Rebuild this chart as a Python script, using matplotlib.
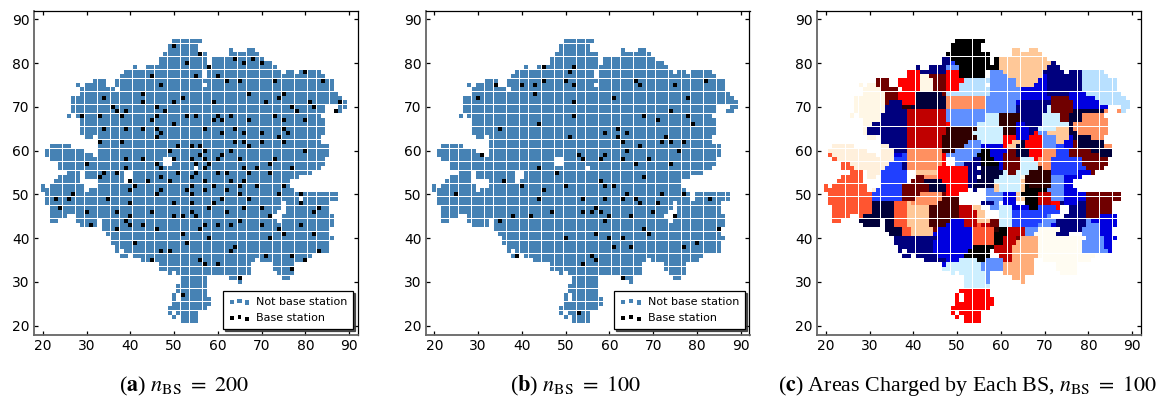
import matplotlib
matplotlib.use('Agg')
import matplotlib.pyplot as plt

# cells of the grid, row by row: y -> runs of x (first, last)
mask_rows = {
    85: [(50, 56)], 84: [(49, 55)], 83: [(49, 55), (63, 63), (67, 68)], 82: [(48, 57), (63, 69)],
    81: [(47, 57), (59, 70)], 80: [(47, 57), (59, 72)], 79: [(41, 41), (44, 73)],
    78: [(39, 56), (58, 74), (76, 77), (79, 83)], 77: [(38, 56), (58, 84)],
    76: [(32, 34), (37, 86)], 75: [(28, 28), (30, 34), (37, 56), (58, 86)],
    74: [(29, 36), (38, 86)], 73: [(29, 87)], 72: [(27, 88)], 71: [(27, 89)],
    70: [(27, 84), (88, 89)], 69: [(27, 84), (87, 88)], 68: [(26, 26), (28, 83)],
    67: [(29, 84)], 66: [(29, 84)], 65: [(29, 84)], 64: [(29, 84)],
    63: [(30, 31), (33, 83)], 62: [(33, 83)], 61: [(22, 26), (33, 85)],
    60: [(21, 29), (33, 85)], 59: [(21, 31), (33, 85)], 58: [(22, 47), (50, 84)],
    57: [(24, 47), (50, 84)], 56: [(24, 54), (56, 83)],
    55: [(26, 28), (30, 38), (41, 81)], 54: [(24, 28), (30, 38), (41, 78)],
    53: [(23, 28), (33, 38), (40, 76)], 52: [(20, 20), (22, 29), (33, 76)],
    51: [(20, 29), (31, 77)], 50: [(21, 78), (80, 87)], 49: [(21, 78), (80, 87)],
    48: [(21, 74), (76, 85)], 47: [(22, 74), (76, 85)], 46: [(22, 73), (76, 85)],
    45: [(22, 25), (28, 72), (75, 86)], 44: [(22, 23), (28, 32), (34, 73), (75, 86)],
    43: [(29, 32), (34, 86)], 42: [(34, 85)], 41: [(35, 85)], 40: [(36, 86)],
    39: [(36, 85)], 38: [(37, 85)], 37: [(37, 37), (39, 85)],
    36: [(38, 39), (41, 81)], 35: [(43, 68), (70, 80)], 34: [(47, 67), (73, 77)],
    33: [(47, 67), (73, 77)], 32: [(49, 49), (51, 67), (74, 77)],
    31: [(52, 57), (63, 65), (75, 76)], 30: [(52, 57), (65, 65)], 29: [(51, 57)],
    28: [(51, 57)], 27: [(50, 50), (52, 57)], 26: [(50, 50), (52, 58)],
    25: [(50, 58)], 24: [(49, 57)], 23: [(49, 49), (51, 55)],
    22: [(50, 50), (52, 55)], 21: [(52, 55)],
}

# base stations of panel (a)
bs_200_x = [50, 56, 64, 68, 66, 70, 53, 58, 45, 55, 60, 80, 62, 65, 73, 84, 47, 43, 67, 75, 34, 52, 74,
            43, 50, 59, 71, 81, 88, 36, 46, 77, 82, 37, 39, 48, 78, 87, 29, 33, 38, 46, 53, 55, 60, 63, 73,
            45, 59, 61, 67, 75, 80, 50, 34, 39, 43, 46, 57, 64, 75, 47, 61, 66, 70, 76, 46, 74, 33, 38, 64,
            66, 70, 75, 51, 54, 56, 67, 49, 57, 63, 80, 56, 61, 39, 43, 50, 54, 57, 60, 65, 73, 30, 46, 55,
            58, 72, 39, 47, 57, 66, 69, 77, 34, 37, 51, 55, 60, 62, 67, 72, 33, 47, 54, 40, 44, 49, 57, 63,
            66, 41, 54, 59, 65, 69, 75, 40, 47, 53, 57, 62, 27, 46, 54, 65, 74, 79, 23, 26, 35, 61, 67, 40,
            50, 54, 59, 79, 24, 58, 66, 70, 83, 30, 37, 45, 54, 62, 82, 40, 50, 52, 55, 72, 39, 65, 31, 40,
            43, 57, 60, 63, 70, 79, 37, 46, 56, 74, 52, 75, 82, 58, 72, 41, 53, 64, 47, 49, 63, 83, 71, 77,
            45, 56, 80, 57, 60, 77, 65, 52]
bs_200_y = [84, 82, 81, 81, 80, 80, 80, 79, 77, 77, 77, 78, 76, 76, 76, 76, 75, 73, 73, 73, 72, 72, 72,
            71, 71, 71, 71, 71, 71, 70, 70, 70, 70, 69, 69, 69, 69, 69, 68, 68, 68, 68, 68, 68, 68, 68, 68,
            67, 67, 67, 67, 67, 67, 66, 65, 65, 65, 65, 65, 65, 65, 64, 64, 64, 64, 64, 63, 63, 62, 62, 62,
            62, 62, 62, 61, 61, 61, 61, 60, 60, 60, 60, 59, 59, 58, 58, 58, 58, 58, 58, 58, 58, 57, 57, 57,
            57, 57, 56, 56, 56, 56, 56, 56, 55, 55, 55, 55, 55, 55, 55, 55, 54, 54, 54, 53, 53, 53, 53, 53,
            53, 52, 52, 52, 52, 52, 52, 51, 51, 51, 51, 51, 50, 50, 50, 50, 50, 50, 49, 49, 49, 49, 49, 48,
            48, 48, 48, 48, 47, 47, 47, 47, 47, 46, 46, 46, 46, 46, 46, 45, 45, 45, 45, 45, 44, 44, 43, 43,
            43, 43, 43, 43, 43, 43, 42, 42, 42, 42, 41, 41, 41, 40, 40, 39, 39, 38, 37, 37, 37, 37, 36, 36,
            35, 35, 35, 34, 34, 33, 31, 27]

# base stations of panel (b)
bs_100_x = [45, 52, 51, 45, 50, 66, 82, 34, 40, 43, 52, 67, 75, 43, 30, 61, 78, 52, 74, 52, 68, 78, 71,
            79, 44, 35, 62, 59, 64, 51, 62, 73, 63, 72, 74, 77, 67, 64, 76, 31, 53, 59, 54, 58, 63, 69, 66,
            74, 44, 48, 68, 36, 58, 40, 50, 59, 61, 45, 25, 64, 72, 77, 66, 44, 54, 59, 63, 83, 71, 67, 47,
            54, 56, 58, 57, 70, 38, 42, 60, 65, 75, 35, 59, 68, 85, 57, 69, 50, 60, 63, 80, 61, 65, 77, 56,
            39, 57, 54, 63, 53]
bs_100_y = [79, 79, 78, 76, 76, 76, 76, 75, 75, 75, 75, 75, 75, 73, 72, 72, 72, 71, 69, 68, 68, 68, 67,
            66, 66, 65, 65, 64, 64, 63, 63, 63, 62, 62, 62, 62, 61, 60, 60, 59, 59, 59, 58, 58, 58, 58, 57,
            57, 56, 55, 54, 53, 53, 52, 52, 52, 52, 51, 50, 50, 50, 50, 49, 49, 49, 49, 49, 49, 48, 48, 46,
            46, 46, 46, 47, 46, 45, 45, 45, 45, 45, 44, 44, 42, 42, 41, 41, 40, 40, 40, 39, 38, 38, 38, 36,
            36, 35, 34, 31, 23]

# colours of panel (c), one per key used in area_rows
area_colors = {
    'k': '#000000', 'n': '#00007e', 'N': '#00003a', 'b': '#0000e0', 'B': '#2040ff',
    'm': '#6090ff', 'l': '#b8e0ff', 'L': '#cdefff', 'W': '#fff7e6', 'w': '#fffcf2',
    'c': '#fff0dc', 'p': '#ffc898', 'q': '#ffad7a', 'o': '#ff9060', 'O': '#ff5530', 'r': '#ff0000',
    'R': '#c00000', 'd': '#700000', 'x': '#480000', 'e': '#300000',
}

# panel (c): y -> runs of (colour key, first x, last x)
area_rows = {
    85: [('k', 50, 56)], 84: [('k', 49, 55)], 83: [('k', 49, 55), ('p', 63, 64), ('p', 67, 68)],
    82: [('k', 48, 57), ('p', 63, 69)],
    81: [('n', 47, 48), ('k', 49, 57), ('k', 59, 59), ('p', 60, 70)],
    80: [('n', 47, 48), ('B', 49, 49), ('k', 50, 57), ('k', 59, 59), ('p', 60, 71), ('n', 72, 72)],
    79: [('n', 41, 41), ('n', 44, 47), ('m', 48, 50), ('k', 51, 59), ('p', 60, 70), ('n', 71, 73)],
    78: [('r', 39, 41), ('n', 42, 47), ('r', 48, 50), ('k', 51, 56), ('m', 58, 60), ('p', 61, 69),
         ('n', 70, 74), ('n', 76, 78), ('l', 79, 83)],
    77: [('r', 39, 41), ('W', 42, 43), ('d', 44, 47), ('r', 48, 50), ('k', 51, 56), ('m', 58, 61),
         ('p', 62, 69), ('b', 70, 70), ('n', 71, 78), ('l', 79, 84)],
    76: [('d', 32, 34), ('r', 37, 41), ('W', 42, 44), ('d', 45, 47), ('r', 48, 51), ('l', 52, 57),
         ('m', 58, 63), ('p', 64, 68), ('b', 69, 70), ('n', 71, 78), ('l', 79, 86)],
    75: [('W', 28, 28), ('W', 30, 31), ('d', 32, 34), ('r', 37, 41), ('W', 42, 44), ('d', 45, 47),
         ('r', 48, 50), ('l', 51, 56), ('m', 58, 63), ('p', 64, 67), ('b', 68, 70), ('n', 71, 78), ('l', 79, 86)],
    74: [('W', 29, 32), ('d', 33, 36), ('r', 38, 41), ('W', 42, 44), ('d', 45, 47), ('r', 48, 50),
         ('l', 51, 57), ('m', 58, 64), ('b', 65, 70), ('n', 71, 78), ('l', 79, 86)],
    73: [('W', 29, 33), ('d', 34, 36), ('r', 37, 40), ('N', 41, 46), ('d', 47, 47), ('l', 48, 57),
         ('m', 58, 64), ('b', 65, 70), ('n', 71, 75), ('b', 76, 79), ('l', 80, 87)],
    72: [('W', 27, 33), ('d', 34, 36), ('r', 37, 40), ('N', 41, 47), ('o', 48, 56), ('m', 57, 64),
         ('b', 65, 71), ('d', 72, 75), ('b', 76, 81), ('l', 82, 88)],
    71: [('W', 27, 33), ('d', 34, 34), ('n', 35, 37), ('r', 38, 40), ('N', 41, 47), ('o', 48, 56),
         ('m', 57, 63), ('b', 64, 64), ('n', 65, 71), ('d', 72, 76), ('b', 77, 82), ('l', 83, 89)],
    70: [('W', 27, 33), ('n', 34, 37), ('e', 38, 39), ('N', 40, 47), ('o', 48, 56), ('m', 57, 63),
         ('n', 64, 70), ('L', 71, 71), ('d', 72, 76), ('b', 77, 84), ('l', 88, 89)],
    69: [('W', 27, 33), ('n', 34, 38), ('R', 39, 47), ('m', 48, 63), ('n', 64, 70), ('L', 71, 71),
         ('d', 72, 76), ('N', 77, 83), ('o', 84, 84), ('o', 87, 87), ('l', 88, 88)],
    68: [('W', 26, 26), ('W', 28, 32), ('n', 33, 38), ('R', 39, 47), ('m', 48, 56), ('L', 57, 59),
         ('e', 60, 64), ('n', 65, 69), ('L', 70, 73), ('d', 74, 75), ('N', 76, 78), ('o', 79, 83)],
    67: [('W', 29, 32), ('n', 33, 38), ('R', 39, 47), ('m', 48, 56), ('L', 57, 59), ('e', 60, 64),
         ('n', 65, 69), ('L', 70, 73), ('d', 74, 75), ('N', 76, 78), ('o', 79, 84)],
    66: [('W', 29, 30), ('n', 31, 38), ('R', 39, 47), ('r', 48, 48), ('m', 49, 54), ('L', 55, 59),
         ('e', 60, 63), ('b', 64, 65), ('n', 66, 69), ('L', 70, 75), ('N', 76, 76), ('o', 77, 84)],
    65: [('W', 29, 29), ('n', 30, 38), ('R', 39, 47), ('e', 48, 54), ('L', 55, 60), ('e', 61, 63),
         ('b', 64, 66), ('n', 67, 68), ('L', 69, 72), ('p', 73, 75), ('N', 76, 76), ('o', 77, 84)],
    64: [('W', 29, 29), ('n', 30, 38), ('R', 39, 47), ('e', 48, 53), ('L', 54, 60), ('e', 61, 63),
         ('b', 64, 66), ('n', 67, 67), ('r', 68, 68), ('m', 69, 70), ('p', 71, 75), ('N', 76, 77), ('o', 78, 84)],
    63: [('W', 30, 31), ('n', 33, 38), ('R', 39, 46), ('e', 47, 54), ('L', 55, 60), ('r', 61, 63),
         ('b', 64, 66), ('r', 67, 69), ('m', 70, 72), ('p', 73, 75), ('b', 76, 76), ('N', 77, 80), ('o', 81, 83)],
    62: [('n', 33, 38), ('R', 39, 46), ('e', 47, 52), ('m', 53, 55), ('L', 56, 60), ('r', 61, 62),
         ('p', 63, 64), ('N', 65, 65), ('r', 66, 69), ('m', 70, 72), ('p', 73, 74), ('b', 75, 76),
         ('d', 77, 77), ('N', 78, 83)],
    61: [('c', 22, 26), ('c', 33, 34), ('n', 35, 38), ('R', 39, 46), ('e', 47, 51), ('m', 52, 55),
         ('b', 56, 60), ('r', 61, 61), ('p', 62, 63), ('N', 64, 65), ('r', 66, 69), ('m', 70, 72),
         ('B', 73, 74), ('b', 75, 76), ('d', 77, 77), ('N', 78, 83), ('o', 84, 85)],
    60: [('c', 21, 29), ('c', 33, 35), ('n', 36, 38), ('o', 39, 46), ('e', 47, 49), ('m', 50, 55),
         ('k', 56, 57), ('b', 58, 61), ('d', 62, 63), ('N', 64, 66), ('r', 67, 69), ('o', 70, 72),
         ('B', 73, 75), ('d', 76, 80), ('N', 81, 85)],
    59: [('O', 21, 21), ('c', 22, 31), ('c', 33, 35), ('b', 36, 37), ('B', 38, 38), ('o', 39, 46),
         ('r', 47, 47), ('m', 48, 54), ('k', 55, 57), ('b', 58, 60), ('d', 61, 63), ('N', 64, 66),
         ('r', 67, 69), ('o', 70, 72), ('B', 73, 75), ('d', 76, 82), ('N', 83, 85)],
    58: [('O', 22, 22), ('c', 23, 35), ('B', 36, 38), ('o', 39, 46), ('r', 47, 47), ('m', 50, 53),
         ('n', 54, 55), ('k', 56, 58), ('b', 59, 60), ('d', 61, 64), ('L', 65, 67), ('r', 68, 68),
         ('o', 69, 71), ('B', 72, 78), ('d', 79, 84)],
    57: [('O', 24, 25), ('c', 26, 34), ('B', 35, 37), ('n', 38, 38), ('o', 39, 46), ('r', 47, 47),
         ('m', 50, 51), ('n', 52, 55), ('k', 56, 59), ('b', 60, 60), ('d', 61, 64), ('L', 65, 68),
         ('o', 69, 71), ('B', 72, 78), ('d', 79, 84)],
    56: [('O', 24, 26), ('c', 27, 33), ('B', 34, 37), ('n', 38, 38), ('o', 39, 45), ('r', 46, 52),
         ('n', 53, 54), ('N', 56, 59), ('b', 60, 60), ('d', 61, 64), ('L', 65, 68), ('e', 69, 69),
         ('o', 70, 71), ('B', 72, 79), ('d', 80, 83)],
    55: [('O', 26, 28), ('c', 30, 32), ('B', 33, 38), ('p', 41, 45), ('r', 46, 52), ('n', 53, 55),
         ('N', 56, 60), ('L', 61, 61), ('d', 62, 63), ('L', 64, 66), ('e', 67, 71), ('B', 72, 77),
         ('b', 78, 80), ('d', 81, 81)],
    54: [('O', 24, 28), ('c', 30, 31), ('B', 33, 38), ('d', 41, 42), ('o', 43, 45), ('r', 46, 52),
         ('n', 53, 54), ('N', 56, 59), ('L', 60, 64), ('W', 65, 65), ('e', 66, 71), ('m', 72, 74),
         ('b', 75, 78)],
    53: [('O', 23, 28), ('B', 33, 38), ('d', 40, 42), ('N', 43, 46), ('r', 47, 52), ('n', 53, 54),
         ('N', 55, 58), ('L', 59, 64), ('p', 65, 65), ('e', 66, 71), ('m', 72, 74), ('b', 75, 76)],
    52: [('O', 20, 20), ('O', 22, 29), ('B', 33, 37), ('d', 38, 43), ('N', 44, 47), ('r', 48, 52),
         ('n', 53, 53), ('N', 54, 58), ('p', 59, 59), ('L', 60, 64), ('p', 65, 65), ('k', 66, 66),
         ('e', 67, 71), ('m', 72, 74), ('b', 75, 76)],
    51: [('O', 20, 29), ('c', 31, 31), ('B', 32, 37), ('d', 38, 43), ('N', 44, 47), ('r', 48, 52),
         ('n', 54, 54), ('m', 57, 58), ('p', 59, 59), ('L', 60, 64), ('p', 65, 65), ('k', 66, 70),
         ('m', 71, 74), ('b', 75, 77)],
    50: [('O', 21, 30), ('B', 31, 37), ('d', 38, 41), ('o', 42, 46), ('d', 47, 47), ('r', 48, 50),
         ('m', 57, 60), ('b', 61, 63), ('p', 64, 64), ('k', 65, 68), ('R', 69, 71), ('m', 72, 74),
         ('b', 75, 79), ('d', 80, 87)],
    49: [('O', 21, 30), ('B', 31, 37), ('d', 38, 40), ('o', 41, 46), ('x', 47, 50), ('m', 57, 60),
         ('b', 61, 63), ('p', 64, 65), ('k', 66, 68), ('R', 69, 71), ('m', 72, 74), ('b', 75, 79), ('d', 80, 87)],
    48: [('O', 21, 30), ('N', 31, 35), ('O', 36, 38), ('p', 39, 39), ('o', 40, 45), ('x', 46, 50),
         ('n', 56, 58), ('m', 59, 59), ('b', 61, 63), ('k', 66, 68), ('R', 69, 71), ('r', 72, 73),
         ('n', 74, 74), ('b', 75, 77), ('n', 78, 79), ('d', 80, 85)],
    47: [('O', 22, 30), ('N', 31, 35), ('O', 36, 38), ('p', 39, 43), ('x', 44, 50), ('R', 51, 53),
         ('p', 54, 55), ('m', 58, 59), ('L', 60, 62), ('b', 63, 66), ('k', 67, 68), ('B', 69, 72),
         ('r', 73, 73), ('n', 76, 79), ('d', 80, 85)],
    46: [('O', 22, 30), ('N', 31, 35), ('O', 36, 38), ('p', 39, 43), ('x', 44, 50), ('R', 51, 54),
         ('p', 55, 56), ('L', 60, 62), ('B', 63, 73), ('n', 76, 79), ('d', 80, 85)],
    45: [('O', 22, 25), ('O', 28, 28), ('N', 29, 35), ('O', 36, 38), ('p', 39, 43), ('x', 44, 50),
         ('R', 51, 54), ('p', 55, 56), ('L', 60, 62), ('B', 63, 70), ('m', 71, 71), ('n', 75, 79),
         ('d', 80, 82), ('b', 83, 86)],
    44: [('O', 22, 23), ('N', 28, 32), ('N', 34, 35), ('O', 36, 38), ('p', 39, 43), ('x', 44, 48),
         ('b', 49, 51), ('R', 52, 54), ('p', 55, 57), ('d', 58, 59), ('L', 60, 62), ('B', 63, 69),
         ('m', 70, 72), ('n', 73, 79), ('m', 80, 80), ('b', 81, 86)],
    43: [('N', 29, 32), ('N', 34, 35), ('O', 36, 38), ('p', 39, 43), ('x', 44, 47), ('b', 48, 51),
         ('R', 52, 54), ('O', 55, 55), ('R', 56, 57), ('d', 58, 59), ('L', 60, 62), ('B', 63, 68),
         ('m', 69, 71), ('b', 72, 72), ('n', 73, 79), ('m', 80, 82), ('b', 83, 86)],
    42: [('N', 34, 37), ('O', 38, 39), ('p', 40, 44), ('d', 45, 45), ('b', 46, 53), ('O', 54, 58),
         ('e', 59, 59), ('k', 60, 61), ('R', 62, 65), ('m', 66, 68), ('w', 69, 73), ('n', 74, 78),
         ('m', 79, 82), ('b', 83, 85)],
    41: [('N', 35, 37), ('O', 38, 39), ('p', 40, 44), ('b', 45, 53), ('O', 54, 58), ('k', 59, 61),
         ('R', 62, 65), ('m', 66, 67), ('w', 68, 72), ('n', 73, 75), ('m', 79, 82), ('b', 83, 85)],
    40: [('n', 36, 45), ('b', 46, 53), ('O', 54, 58), ('k', 59, 60), ('R', 61, 63), ('d', 64, 64),
         ('q', 65, 68), ('w', 69, 78), ('m', 80, 83), ('b', 84, 86)],
    39: [('n', 36, 44), ('b', 45, 53), ('O', 54, 58), ('k', 59, 60), ('R', 61, 63), ('q', 64, 68),
         ('w', 69, 78), ('m', 79, 83), ('b', 84, 85)],
    38: [('n', 37, 44), ('b', 45, 53), ('k', 54, 58), ('R', 59, 62), ('q', 63, 68), ('w', 69, 78),
         ('m', 79, 83), ('b', 84, 85)],
    37: [('n', 37, 37), ('n', 39, 44), ('b', 45, 52), ('k', 53, 57), ('R', 59, 62), ('q', 63, 68),
         ('w', 69, 78), ('m', 79, 84), ('b', 85, 85)],
    36: [('n', 38, 39), ('n', 41, 45), ('b', 46, 51), ('k', 52, 57), ('R', 60, 62), ('q', 63, 68),
         ('w', 69, 81)],
    35: [('n', 43, 47), ('b', 48, 50), ('L', 51, 54), ('k', 55, 56), ('m', 57, 60), ('R', 61, 62),
         ('q', 63, 67), ('w', 70, 80)],
    34: [('b', 47, 47), ('L', 48, 55), ('m', 56, 60), ('q', 61, 67), ('w', 73, 77)],
    33: [('L', 47, 55), ('m', 56, 60), ('q', 61, 67), ('w', 73, 77)],
    32: [('L', 49, 49), ('L', 51, 56), ('m', 57, 57), ('q', 61, 67), ('w', 74, 77)],
    31: [('L', 52, 56), ('m', 57, 57), ('q', 63, 65)],
    30: [('L', 52, 56), ('m', 57, 57), ('q', 65, 65)],
    29: [('L', 52, 57)], 28: [('r', 51, 57)], 27: [('r', 50, 50), ('r', 52, 57)],
    26: [('r', 50, 50), ('r', 52, 58)], 25: [('r', 50, 58)], 24: [('r', 49, 57)],
    23: [('r', 49, 49), ('r', 51, 55)], 22: [('r', 50, 50), ('r', 52, 55)], 21: [('r', 52, 55)],
}

ticks = [20, 30, 40, 50, 60, 70, 80, 90]
blue = '#4682b4'

plt.rcParams['mathtext.fontset'] = 'stix'

# grid cells as plain x/y lists
cell_x = []
cell_y = []
for y, runs in mask_rows.items():
    for first, last in runs:
        for x in range(first, last + 1):
            cell_x.append(x)
            cell_y.append(y)

area_x = []
area_y = []
area_c = []
for y, runs in area_rows.items():
    for key, first, last in runs:
        for x in range(first, last + 1):
            area_x.append(x)
            area_y.append(y)
            area_c.append(area_colors[key])

fig = plt.figure(figsize=(11.62, 4.01), dpi=100)
W, H = 1162.0, 401.0
lefts = [34, 425.5, 817]
axs = [fig.add_axes([left / W, 1 - 334.5 / H, 324 / W, 324 / H]) for left in lefts]


def style_axis(ax):
    ax.set_xlim(18, 92)
    ax.set_ylim(18, 92)
    ax.set_xticks(ticks)
    ax.set_yticks(ticks)
    ax.tick_params(direction='in', top=True, right=True, length=2.6, width=0.9, labelsize=10, pad=3)
    for side in ['top', 'right']:
        ax.spines[side].set_linewidth(0.9)
    for side in ['left', 'bottom']:
        ax.spines[side].set_linewidth(1.3)
        ax.spines[side].set_color('#666666')


def scatter_cells(ax, xs, ys, color, size, label=None, z=2):
    pts = ax.scatter(xs, ys, s=size, c=color, marker='s', linewidths=0, label=label, zorder=z)
    pts.set_snap(True)
    return pts


for ax, bx, by in [(axs[0], bs_200_x, bs_200_y), (axs[1], bs_100_x, bs_100_y)]:
    style_axis(ax)
    scatter_cells(ax, cell_x, cell_y, blue, 9.0, 'Not base station')
    scatter_cells(ax, bx, by, 'black', 7.2, 'Base station', z=3)
    leg = ax.legend(loc='lower right', bbox_to_anchor=(0.985, 0.018), borderaxespad=0, fontsize=8.0,
                    scatterpoints=3, scatteryoffsets=[0.375, 0.5, 0.3125], fancybox=False,
                    shadow={'ox': 1.4, 'oy': -1.4, 'color': '#333333', 'alpha': 0.85}, edgecolor='black',
                    framealpha=1, labelspacing=0.55, handletextpad=0.5, borderpad=0.5, handlelength=2.0)
    leg.get_frame().set_linewidth(0.9)

style_axis(axs[2])
scatter_cells(axs[2], area_x, area_y, area_c, 9.0)

serif = ['Liberation Serif', 'DejaVu Serif']
cap_y = 1 - 386 / H
fig.text(184 / W, cap_y, r'($\mathbf{a}$) $n_{\mathrm{BS}}\ =\ 200$', ha='center', va='center', fontsize=16, family=serif)
fig.text(576 / W, cap_y, r'($\mathbf{b}$) $n_{\mathrm{BS}}\ =\ 100$', ha='center', va='center', fontsize=16, family=serif)
fig.text(967 / W, cap_y, r'($\mathbf{c}$) Areas Charged by Each BS, $n_{\mathrm{BS}}\ =\ 100$', ha='center', va='center',
         fontsize=15.8, family=serif)

fig.savefig('out.png', dpi=100)
